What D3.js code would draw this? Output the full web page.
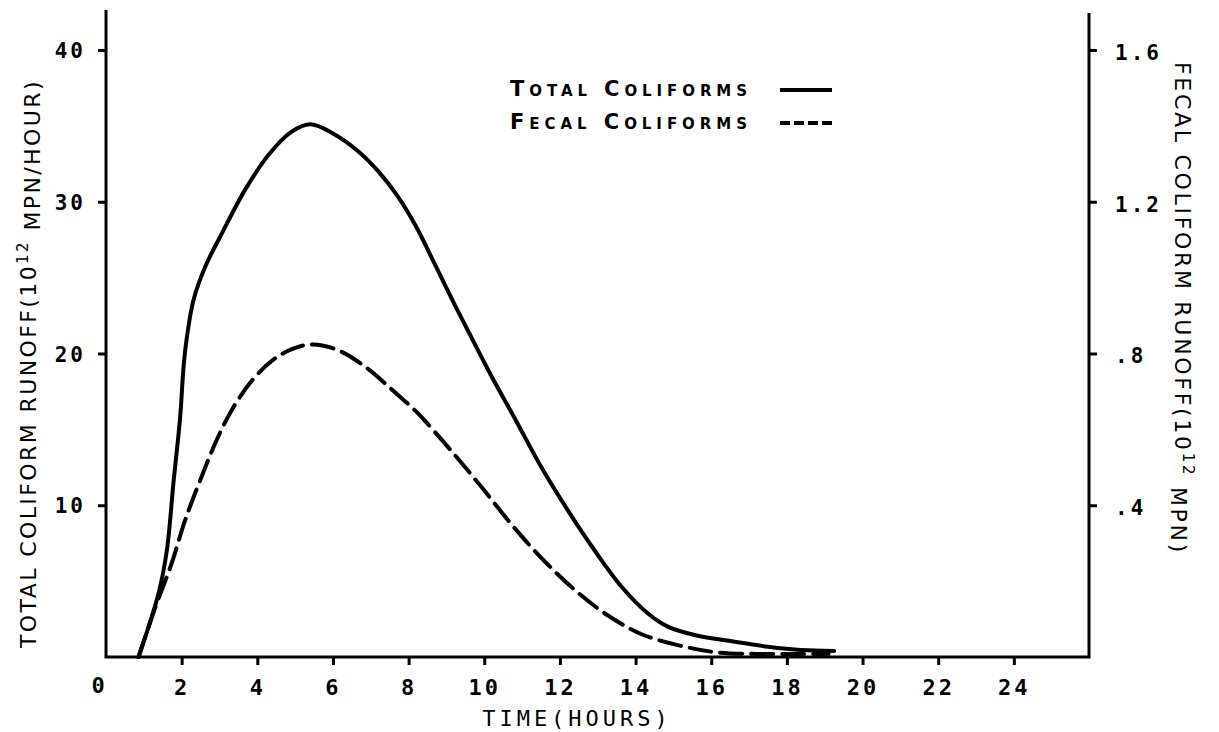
<!DOCTYPE html>
<html>
<head>
<meta charset="utf-8">
<script src="https://cdn.jsdelivr.net/npm/d3@7"></script>
<style>
    html, body { margin: 0; padding: 0; background: #fff; }
    #chart { width: 1219px; height: 732px; }
</style>
</head>
<body>
<div id="chart"></div>
<script>
// Total coliforms, read against the left axis (10^12 MPN/hour)
const totalHours = [0.86, 1.39, 1.61, 1.78, 1.96, 2.05, 2.14, 2.31, 2.62, 3.06, 3.68, 4.3, 4.9, 5.4, 6.0, 6.68, 7.2, 7.7, 8.19, 8.67, 9.2, 9.55, 10.17, 10.79, 11.51, 12.2, 12.91, 13.63, 14.32, 14.85, 15.56, 16.62, 17.5, 18.38, 19.25];
const totalValues = [0, 4.2, 7.05, 11.4, 15.8, 19.1, 21.1, 23.5, 25.7, 27.9, 30.8, 33.1, 34.6, 35.1, 34.5, 33.3, 32.0, 30.4, 28.4, 26.0, 23.3, 21.6, 18.6, 15.8, 12.5, 9.7, 7.05, 4.63, 2.88, 2.0, 1.45, 1.0, 0.68, 0.46, 0.4];

// Fecal coliforms, read against the right axis (10^12 MPN)
const fecalHours = [0.86, 1.3, 1.74, 2.09, 2.53, 2.89, 3.33, 3.87, 4.4, 4.93, 5.46, 6.15, 6.87, 7.57, 8.19, 8.5, 9.2, 9.91, 10.7, 11.5, 12.38, 13.26, 14.16, 15.3, 16.18, 17.2, 18.2, 19.1];
const fecalValues = [0, 0.13, 0.248, 0.36, 0.476, 0.564, 0.652, 0.73, 0.782, 0.812, 0.824, 0.808, 0.764, 0.704, 0.648, 0.615, 0.535, 0.45, 0.352, 0.262, 0.178, 0.11, 0.06, 0.027, 0.012, 0.008, 0.008, 0.008];

const xTicks = [2, 4, 6, 8, 10, 12, 14, 16, 18, 20, 22, 24];
const leftTicks = [10, 20, 30, 40];
const rightTicks = [0.4, 0.8, 1.2, 1.6];
const rightTickLabels = ['.4', '.8', '1.2', '1.6'];

const seriesNames = ['Total Coliforms', 'Fecal Coliforms'];

class ColiformChart {
    constructor() {
        this.width = 1219;
        this.height = 732;
        this.margin = { top: 10, right: 130, bottom: 75, left: 106 };
        this.svg = null;
    }

    init() {
        const m = this.margin;
        const x0 = m.left;
        const x1 = this.width - m.right;
        const yBottom = this.height - m.bottom;

        this.svg = d3.select('#chart')
            .append('svg')
            .attr('width', this.width)
            .attr('height', this.height)
            .style('font-family', '"DejaVu Sans Mono", monospace');

        const x = d3.scaleLinear().domain([0, 26]).range([x0, x1 + 0.5]);
        const yLeft = d3.scaleLinear().domain([0, 40]).range([yBottom, 50]);
        const yRight = d3.scaleLinear().domain([0, 1.6]).range([yBottom, 50]);

        // Axes
        const bottomAxis = this.svg.append('g')
            .attr('transform', `translate(0,${yBottom})`)
            .call(d3.axisBottom(x).tickValues(xTicks).tickSize(8).tickPadding(14).tickFormat(d3.format('d')));

        const leftAxis = this.svg.append('g')
            .attr('transform', `translate(${x0},0)`)
            .call(d3.axisLeft(yLeft).tickValues(leftTicks).tickSize(8).tickPadding(12).tickFormat(d3.format('d')));

        const rightAxis = this.svg.append('g')
            .attr('transform', `translate(${x1},0)`)
            .call(d3.axisRight(yRight).tickValues(rightTicks).tickSize(8).tickPadding(18)
                .tickFormat((d, i) => rightTickLabels[i]));

        [bottomAxis, leftAxis, rightAxis].forEach(g => {
            g.select('.domain').remove();
            g.selectAll('.tick line').attr('stroke', '#000').attr('stroke-width', 3);
            g.selectAll('.tick text')
                .attr('fill', '#000')
                .style('font-family', '"DejaVu Sans Mono", monospace')
                .style('font-weight', 'bold')
                .style('font-size', '21px')
                .style('letter-spacing', '3px');
        });
        bottomAxis.selectAll('.tick text').style('font-size', '22px');
        leftAxis.selectAll('.tick text').attr('dy', '0.36em');
        rightAxis.selectAll('.tick text').attr('dy', '0.45em');

        // Frame lines: left, bottom, right
        const frame = d3.path();
        frame.moveTo(x0, 10);
        frame.lineTo(x0, yBottom);
        frame.lineTo(x1, yBottom);
        frame.lineTo(x1, 13);
        this.svg.append('path')
            .attr('d', frame.toString())
            .attr('fill', 'none')
            .attr('stroke', '#000')
            .attr('stroke-width', 3);

        // "0" at the origin
        this.svg.append('text')
            .attr('x', x(0) - 8)
            .attr('y', yBottom + 36)
            .attr('text-anchor', 'middle')
            .style('font-weight', 'bold')
            .style('font-size', '22px')
            .text('0');

        // Curves
        const totalLine = d3.line()
            .x((d, i) => x(totalHours[i]))
            .y(d => yLeft(d))
            .curve(d3.curveCatmullRom.alpha(0.5));

        const fecalLine = d3.line()
            .x((d, i) => x(fecalHours[i]))
            .y(d => yRight(d))
            .curve(d3.curveCatmullRom.alpha(0.5));

        this.svg.append('path')
            .attr('d', totalLine(totalValues))
            .attr('fill', 'none')
            .attr('stroke', '#000')
            .attr('stroke-width', 4)
            .attr('stroke-linecap', 'round');

        this.svg.append('path')
            .attr('d', fecalLine(fecalValues))
            .attr('fill', 'none')
            .attr('stroke', '#000')
            .attr('stroke-width', 4)
            .attr('stroke-dasharray', '22,9')
            .attr('stroke-linecap', 'round');

        // Legend
        const legend = this.svg.append('g');
        seriesNames.forEach((name, i) => {
            const ly = 96 + i * 33;
            legend.append('text')
                .attr('x', 510)
                .attr('y', ly)
                .attr('textLength', 237)
                .attr('lengthAdjust', 'spacing')
                .style('font-family', '"DejaVu Sans", sans-serif')
                .style('font-variant', 'small-caps')
                .style('font-weight', 'bold')
                .style('font-size', '21px')
                .text(name);
            legend.append('line')
                .attr('x1', 780).attr('x2', 832)
                .attr('y1', ly - 6).attr('y2', ly - 6)
                .attr('stroke', '#000')
                .attr('stroke-width', 4)
                .attr('stroke-dasharray', i === 0 ? null : '10,4');
        });

        // Axis titles
        this.svg.append('text')
            .attr('x', 577)
            .attr('y', 726)
            .attr('text-anchor', 'middle')
            .style('font-size', '22px')
            .style('letter-spacing', '4px')
            .text('TIME(HOURS)');

        const leftTitle = this.svg.append('text')
            .attr('transform', 'translate(36,648) rotate(-90)')
            .style('font-family', '"DejaVu Sans", sans-serif')
            .style('font-size', '22px')
            .style('letter-spacing', '2.4px');
        leftTitle.append('tspan').text('TOTAL COLIFORM RUNOFF(10');
        leftTitle.append('tspan').attr('dy', '-0.55em').style('font-size', '15px').text('12');
        leftTitle.append('tspan').attr('dy', '0.55em').text(' MPN/HOUR)');

        const rightTitle = this.svg.append('text')
            .attr('transform', 'translate(1175,62) rotate(90)')
            .style('font-family', '"DejaVu Sans", sans-serif')
            .style('font-size', '22px')
            .style('letter-spacing', '2.7px');
        rightTitle.append('tspan').text('FECAL COLIFORM RUNOFF(10');
        rightTitle.append('tspan').attr('dy', '-0.55em').style('font-size', '15px').text('12');
        rightTitle.append('tspan').attr('dy', '0.55em').text(' MPN)');
    }
}

new ColiformChart().init();
</script>
</body>
</html>
